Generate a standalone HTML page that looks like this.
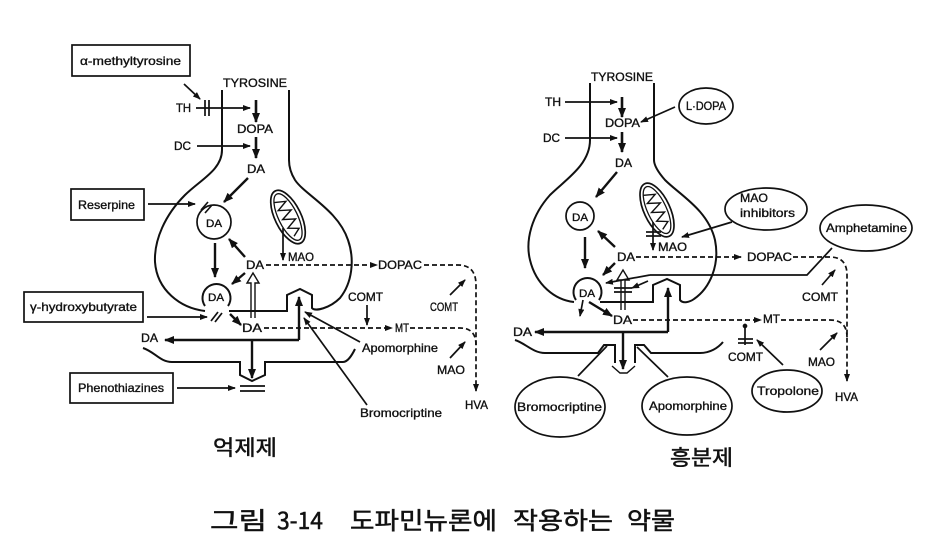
<!DOCTYPE html>
<html><head><meta charset="utf-8"><style>
html,body{margin:0;padding:0;background:#fff;}
svg{display:block;}
text{font-family:"Liberation Sans","Noto Sans CJK KR",sans-serif;fill:#111;}
.lb text{stroke:#111;stroke-width:0.35;}
.k{font-family:"Liberation Sans","Noto Sans CJK KR",sans-serif;}
.k text{stroke:#111;stroke-width:0.5;}
</style></head><body>
<svg width="925" height="548" viewBox="0 0 925 548" xmlns="http://www.w3.org/2000/svg">
<defs>
<marker id="a" markerUnits="userSpaceOnUse" markerWidth="8" markerHeight="6" refX="7" refY="3" orient="auto"><path d="M0,0 L8,3 L0,6 z" fill="#111"/></marker>
<marker id="b" markerUnits="userSpaceOnUse" markerWidth="10" markerHeight="8" refX="9" refY="4" orient="auto"><path d="M0,0 L10,4 L0,8 z" fill="#111"/></marker>
</defs>
<rect width="925" height="548" fill="#fff"/>
<g stroke="#111" fill="none" stroke-width="1.7">
<!-- LEFT PANEL -->
<rect x="72" y="45" width="118" height="31"/>
<rect x="71" y="189" width="73" height="31"/>
<rect x="24" y="292" width="119" height="30"/>
<rect x="70" y="373" width="103" height="30"/>
<!-- soma outline -->
<path d="M222 90 L222 150 C222 170 200 180 185 195 C165 215 154 240 155 262 C157 290 180 308 205 311" stroke-width="2"/>
<path d="M205 306 A14 14 0 1 1 228 306" stroke-width="2"/>
<path d="M229 311 L287 311 L287 295 L300 289 L312 295 L312 308 C315 312 330 308 340 298 C352 283 355 260 348 240 C338 210 305 195 295 180 C290 172 289 165 289 160 L289 90" stroke-width="2"/>
<circle cx="214" cy="222" r="17" stroke-width="1.7"/>
<!-- mitochondrion -->
<g transform="translate(288,217) rotate(-26)">
<ellipse rx="13" ry="29"/>
<ellipse rx="9.5" ry="25.5" stroke-width="1.3"/>
<polyline points="-6,-19 5,-15 -6,-10 6,-5 -6,0 6,5 -5,10 5,15 -3,20" stroke-width="1.4"/>
</g>
<!-- arrows -->
<line x1="184" y1="84" x2="200" y2="99" marker-end="url(#a)"/>
<line x1="196" y1="108" x2="250" y2="108" marker-end="url(#a)"/>
<line x1="205" y1="100" x2="205" y2="116"/>
<line x1="209" y1="100" x2="209" y2="116"/>
<line x1="256" y1="100" x2="256" y2="122" stroke-width="2.6" marker-end="url(#b)"/>
<line x1="197" y1="146" x2="250" y2="146" marker-end="url(#a)"/>
<line x1="256" y1="137" x2="256" y2="158" stroke-width="2.6" marker-end="url(#b)"/>
<line x1="248" y1="178" x2="224" y2="202" stroke-width="2.4" marker-end="url(#b)"/>
<line x1="148" y1="204" x2="195" y2="204" marker-end="url(#a)"/>
<line x1="201" y1="210" x2="208" y2="202"/>
<line x1="205" y1="213" x2="212" y2="205"/>
<line x1="215" y1="243" x2="215" y2="277" stroke-width="2.4" marker-end="url(#b)"/>
<line x1="245" y1="257" x2="229" y2="239" stroke-width="2.4" marker-end="url(#b)"/>
<line x1="245" y1="273" x2="232" y2="284" stroke-width="2.4" marker-end="url(#b)"/>
<line x1="283" y1="228" x2="283" y2="260" marker-end="url(#a)"/>
<!-- hollow arrow -->
<path d="M251 318 L251 283 L247 283 L253 273 L259 283 L255 283 L255 318" stroke-width="1.4"/>
<!-- dashed -->
<path d="M266 265 L377 265" stroke-dasharray="5 3" marker-end="url(#a)"/>
<path d="M424 265 L458 265 Q476 265 476 285 L476 391" stroke-dasharray="5 3" marker-end="url(#a)"/>
<path d="M264 328 L392 328" stroke-dasharray="5 3" marker-end="url(#a)"/>
<path d="M410 328 L460 328 Q476 328 476 345" stroke-dasharray="5 3"/>
<line x1="450" y1="295" x2="465" y2="280" marker-end="url(#a)"/>
<line x1="367" y1="305" x2="367" y2="325" marker-end="url(#a)"/>
<line x1="450" y1="358" x2="465" y2="342" marker-end="url(#a)"/>
<line x1="360" y1="342" x2="305" y2="312" marker-end="url(#a)"/>
<line x1="367" y1="405" x2="304" y2="318" marker-end="url(#a)"/>
<line x1="230" y1="314" x2="241" y2="325" stroke-width="2.4" marker-end="url(#b)"/>
<line x1="147" y1="317" x2="207" y2="317" marker-end="url(#a)"/>
<line x1="211" y1="321" x2="218" y2="312"/>
<line x1="215" y1="322" x2="222" y2="313"/>
<line x1="299" y1="340" x2="299" y2="297" stroke-width="2.4" marker-end="url(#b)"/>
<line x1="299" y1="340" x2="165" y2="340" stroke-width="2.4" marker-end="url(#b)"/>
<line x1="252" y1="340" x2="252" y2="378" stroke-width="2.4" marker-end="url(#b)"/>
<path d="M143 348 C155 352 160 362 172 362 L240 362 L240 375 L252 381 L265 375 L265 362 L343 362 C348 362 352 355 355 349" stroke-width="2"/>
<line x1="177" y1="388" x2="235" y2="388" marker-end="url(#a)"/>
<line x1="240" y1="386" x2="265" y2="386"/>
<line x1="240" y1="391" x2="265" y2="391"/>

<!-- RIGHT PANEL -->
<path d="M590 83 L590 140 C590 165 565 180 550 195 C532 215 525 240 530 260 C536 285 555 300 574 302" stroke-width="2"/>
<path d="M576 300 A14 14 0 1 1 599 300" stroke-width="2"/>
<path d="M600 302 L653 302 L653 285 L667 279 L680 285 L680 300 C683 304 690 302 694 299 C710 288 720 265 715 240 C708 210 680 195 665 180 C658 172 654 165 654 160 L654 83" stroke-width="2"/>
<circle cx="580" cy="216" r="14"/>
<g transform="translate(657,210) rotate(-25)">
<ellipse rx="13" ry="29"/>
<ellipse rx="9.5" ry="25.5" stroke-width="1.3"/>
<polyline points="-6,-19 5,-15 -6,-10 6,-5 -6,0 6,5 -5,10 5,15 -3,20" stroke-width="1.4"/>
</g>
<ellipse cx="706" cy="106" rx="27" ry="18"/>
<ellipse cx="766" cy="209" rx="41" ry="21"/>
<ellipse cx="866" cy="228" rx="46" ry="23"/>
<ellipse cx="787" cy="391" rx="35" ry="21"/>
<ellipse cx="560" cy="407" rx="45" ry="30"/>
<ellipse cx="687" cy="406" rx="45" ry="29"/>
<line x1="565" y1="102" x2="617" y2="102" marker-end="url(#a)"/>
<line x1="622" y1="97" x2="622" y2="117" stroke-width="2.6" marker-end="url(#b)"/>
<line x1="675" y1="107" x2="641" y2="122" marker-end="url(#a)"/>
<line x1="565" y1="138" x2="617" y2="138" marker-end="url(#a)"/>
<line x1="622" y1="132" x2="622" y2="152" stroke-width="2.6" marker-end="url(#b)"/>
<line x1="617" y1="172" x2="596" y2="197" stroke-width="2.4" marker-end="url(#b)"/>
<line x1="615" y1="247" x2="598" y2="231" stroke-width="2.4" marker-end="url(#b)"/>
<line x1="585" y1="237" x2="585" y2="268" stroke-width="2.4" marker-end="url(#b)"/>
<line x1="615" y1="263" x2="603" y2="275" stroke-width="2.4" marker-end="url(#b)"/>
<line x1="653" y1="222" x2="653" y2="250" marker-end="url(#a)"/>
<line x1="646" y1="232" x2="661" y2="232"/>
<line x1="646" y1="236" x2="661" y2="236"/>
<line x1="732" y1="222" x2="682" y2="237" marker-end="url(#a)"/>
<path d="M621 310 L621 280 L617 280 L623 270 L629 280 L625 280 L625 310" stroke-width="1.4"/>
<line x1="614" y1="288" x2="632" y2="288"/>
<line x1="614" y1="292" x2="632" y2="292"/>
<polyline points="832,248 807,275 650,275"/>
<line x1="650" y1="275" x2="606" y2="283" marker-end="url(#a)"/>
<line x1="648" y1="281" x2="632" y2="288" marker-end="url(#a)"/>
<path d="M636 257 L741 257" stroke-dasharray="5 3" marker-end="url(#a)"/>
<path d="M793 257 L830 257 Q847 257 847 275 L847 381" stroke-dasharray="5 3" marker-end="url(#a)"/>
<path d="M633 320 L761 320" stroke-dasharray="5 3" marker-end="url(#a)"/>
<path d="M781 320 L830 320 Q847 320 847 337" stroke-dasharray="5 3"/>
<line x1="822" y1="285" x2="835" y2="270" marker-end="url(#a)"/>
<line x1="820" y1="350" x2="837" y2="333" marker-end="url(#a)"/>
<line x1="745" y1="345" x2="745" y2="326"/>
<circle cx="745" cy="326" r="1.5" fill="#111"/>
<line x1="738" y1="339" x2="753" y2="339"/>
<line x1="738" y1="343" x2="753" y2="343"/>
<line x1="783" y1="365" x2="757" y2="340" marker-end="url(#a)"/>
<line x1="583" y1="300" x2="580" y2="316" marker-end="url(#a)"/>
<line x1="589" y1="302" x2="612" y2="316" stroke-width="2.4" marker-end="url(#b)"/>
<line x1="668" y1="332" x2="668" y2="288" stroke-width="2.4" marker-end="url(#b)"/>
<line x1="668" y1="332" x2="535" y2="332" stroke-width="2.4" marker-end="url(#b)"/>
<line x1="623" y1="332" x2="623" y2="369" stroke-width="2.4" marker-end="url(#b)"/>
<path d="M515 340 C525 343 533 353 545 353 L598 353 L604 345 L615 345 L615 363" stroke-width="2"/>
<path d="M635 363 L635 345 L644 345 L651 353 L700 353 C710 353 718 348 723 342" stroke-width="2"/>
<path d="M612 366 L620 373 L627 373 L635 366" stroke-width="1.4"/>
<line x1="578" y1="376" x2="607" y2="346"/>
<line x1="668" y1="377" x2="637" y2="347"/>
</g>

<g font-size="12" class="lb">
<!-- left labels -->
<text x="80" y="65" textLength="101" lengthAdjust="spacingAndGlyphs">α-methyltyrosine</text>
<text x="223" y="87" textLength="64" lengthAdjust="spacingAndGlyphs">TYROSINE</text>
<text x="176" y="112" textLength="15" lengthAdjust="spacingAndGlyphs">TH</text>
<text x="237" y="133" textLength="36" lengthAdjust="spacingAndGlyphs">DOPA</text>
<text x="174" y="150" textLength="17" lengthAdjust="spacingAndGlyphs">DC</text>
<text x="247" y="173" textLength="18" lengthAdjust="spacingAndGlyphs">DA</text>
<text x="78" y="209" textLength="57" lengthAdjust="spacingAndGlyphs">Reserpine</text>
<text x="206" y="227" font-size="11" textLength="16" lengthAdjust="spacingAndGlyphs">DA</text>
<text x="288" y="261" textLength="26" lengthAdjust="spacingAndGlyphs">MAO</text>
<text x="246" y="269" textLength="18" lengthAdjust="spacingAndGlyphs">DA</text>
<text x="378" y="269" textLength="44" lengthAdjust="spacingAndGlyphs">DOPAC</text>
<text x="208" y="301" font-size="11" textLength="16" lengthAdjust="spacingAndGlyphs">DA</text>
<text x="348" y="301" textLength="35" lengthAdjust="spacingAndGlyphs">COMT</text>
<text x="430" y="311" textLength="28" lengthAdjust="spacingAndGlyphs">COMT</text>
<text x="30" y="311" textLength="107" lengthAdjust="spacingAndGlyphs">γ-hydroxybutyrate</text>
<text x="242" y="332" textLength="20" lengthAdjust="spacingAndGlyphs">DA</text>
<text x="395" y="332" textLength="14" lengthAdjust="spacingAndGlyphs">MT</text>
<text x="141" y="342" textLength="17" lengthAdjust="spacingAndGlyphs">DA</text>
<text x="362" y="352" textLength="76" lengthAdjust="spacingAndGlyphs">Apomorphine</text>
<text x="437" y="374" textLength="28" lengthAdjust="spacingAndGlyphs">MAO</text>
<text x="78" y="392" textLength="86" lengthAdjust="spacingAndGlyphs">Phenothiazines</text>
<text x="465" y="409" textLength="23" lengthAdjust="spacingAndGlyphs">HVA</text>
<text x="360" y="417" textLength="82" lengthAdjust="spacingAndGlyphs">Bromocriptine</text>
<!-- right labels -->
<text x="591" y="81" textLength="62" lengthAdjust="spacingAndGlyphs">TYROSINE</text>
<text x="545" y="106" textLength="16" lengthAdjust="spacingAndGlyphs">TH</text>
<text x="686" y="110" textLength="40" lengthAdjust="spacingAndGlyphs">L·DOPA</text>
<text x="605" y="127" textLength="35" lengthAdjust="spacingAndGlyphs">DOPA</text>
<text x="543" y="142" textLength="17" lengthAdjust="spacingAndGlyphs">DC</text>
<text x="615" y="167" textLength="17" lengthAdjust="spacingAndGlyphs">DA</text>
<text x="740" y="202" textLength="28" lengthAdjust="spacingAndGlyphs">MAO</text>
<text x="740" y="217" textLength="55" lengthAdjust="spacingAndGlyphs">inhibitors</text>
<text x="572" y="221" font-size="11" textLength="16" lengthAdjust="spacingAndGlyphs">DA</text>
<text x="826" y="232" textLength="81" lengthAdjust="spacingAndGlyphs">Amphetamine</text>
<text x="658" y="251" textLength="29" lengthAdjust="spacingAndGlyphs">MAO</text>
<text x="617" y="261" textLength="18" lengthAdjust="spacingAndGlyphs">DA</text>
<text x="747" y="261" textLength="45" lengthAdjust="spacingAndGlyphs">DOPAC</text>
<text x="579" y="297" font-size="11" textLength="16" lengthAdjust="spacingAndGlyphs">DA</text>
<text x="802" y="301" textLength="36" lengthAdjust="spacingAndGlyphs">COMT</text>
<text x="613" y="324" textLength="19" lengthAdjust="spacingAndGlyphs">DA</text>
<text x="763" y="323" textLength="17" lengthAdjust="spacingAndGlyphs">MT</text>
<text x="513" y="336" textLength="19" lengthAdjust="spacingAndGlyphs">DA</text>
<text x="728" y="361" textLength="35" lengthAdjust="spacingAndGlyphs">COMT</text>
<text x="808" y="366" textLength="27" lengthAdjust="spacingAndGlyphs">MAO</text>
<text x="757" y="395" textLength="62" lengthAdjust="spacingAndGlyphs">Tropolone</text>
<text x="835" y="401" textLength="23" lengthAdjust="spacingAndGlyphs">HVA</text>
<text x="517" y="411" textLength="85" lengthAdjust="spacingAndGlyphs">Bromocriptine</text>
<text x="649" y="410" textLength="78" lengthAdjust="spacingAndGlyphs">Apomorphine</text>
</g>
<g class="k" font-size="21">
<text x="213" y="455" textLength="64" lengthAdjust="spacingAndGlyphs">억제제</text>
<text x="670" y="465" textLength="63" lengthAdjust="spacingAndGlyphs">흥분제</text>
</g>
<g class="k" font-size="24">
<text x="210" y="529" textLength="57" lengthAdjust="spacingAndGlyphs">그림</text>
<text x="277" y="529" textLength="46" lengthAdjust="spacingAndGlyphs" style="font-family:'Noto Sans CJK KR',sans-serif">3-14</text>
<text x="350" y="529" textLength="147" lengthAdjust="spacingAndGlyphs">도파민뉴론에</text>
<text x="513" y="529" textLength="100" lengthAdjust="spacingAndGlyphs">작용하는</text>
<text x="627" y="529" textLength="48" lengthAdjust="spacingAndGlyphs">약물</text>
</g>
</svg>
</body></html>
